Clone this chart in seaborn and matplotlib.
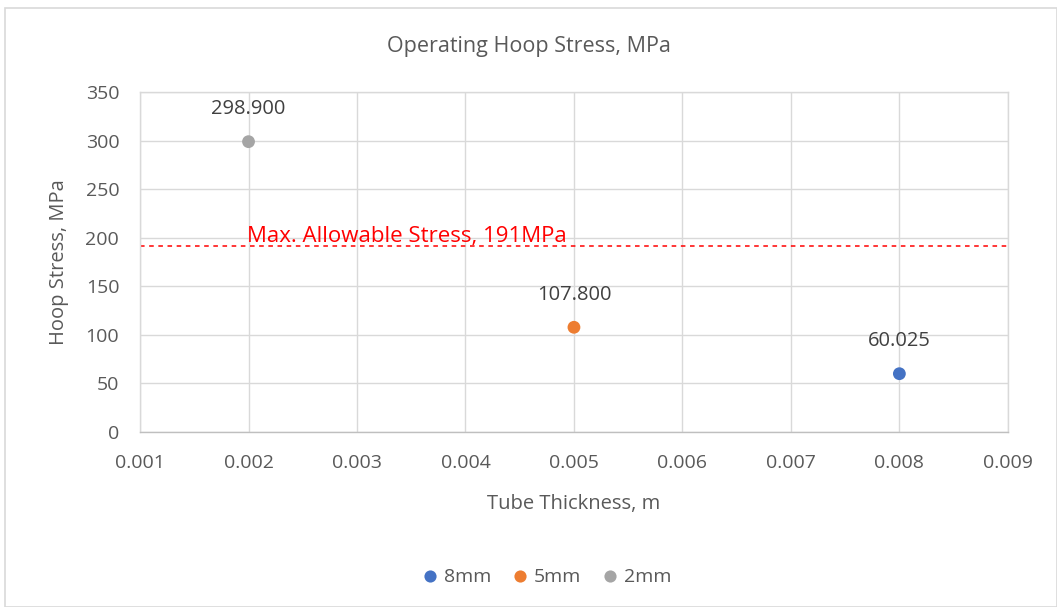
import seaborn as sns
import matplotlib.pyplot as plt
import matplotlib.patches as mpatches
import pandas as pd

# data
series = ["8mm", "5mm", "2mm"]
thickness = [0.008, 0.005, 0.002]
hoop_stress = [60.025, 107.8, 298.9]
colors = ["#4472C4", "#ED7D31", "#A5A5A5"]
allowable = 191
x_ticks = [0.001, 0.002, 0.003, 0.004, 0.005, 0.006, 0.007, 0.008, 0.009]
y_ticks = [0, 50, 100, 150, 200, 250, 300, 350]

df = pd.DataFrame({"series": series, "thickness": thickness, "stress": hoop_stress})

sns.set_theme(style="whitegrid")
plt.rcParams["font.family"] = ["Open Sans", "DejaVu Sans"]
txt = "#595959"
grid = "#D9D9D9"

fig = plt.figure(figsize=(10.57, 6.07), dpi=100)
fig.patches.append(mpatches.Rectangle((0.005, 0.0), 0.995, 0.986, transform=fig.transFigure,
                                      fill=False, edgecolor="#D9D9D9", linewidth=1.2))
ax = fig.add_axes([0.1325, 0.2883, 0.821, 0.5601])

sns.scatterplot(data=df, x="thickness", y="stress", hue="series", hue_order=series,
                palette=colors, s=85, edgecolor="none", ax=ax, zorder=3)

for x, y in zip(thickness, hoop_stress):
    ax.annotate(f"{y:.3f}", (x, y), xytext=(0, 16), textcoords="offset points",
                ha="center", va="bottom", fontsize=14.5, color="#404040")

ax.axhline(allowable, color="#FF0000", linestyle=(0, (3, 3)), linewidth=1.1, zorder=2)
ax.text(0.00199, allowable - 1, "Max. Allowable Stress, 191MPa", color="#FF0000",
        fontsize=16, ha="left", va="bottom")

ax.set_xlim(0.001, 0.009)
ax.set_ylim(0, 350)
ax.set_xticks(x_ticks)
ax.set_yticks(y_ticks)
ax.set_xticklabels([f"{t:.3f}" for t in x_ticks])
ax.tick_params(axis="x", colors=txt, labelsize=14, length=0, pad=16)
ax.tick_params(axis="y", colors=txt, labelsize=14, length=0, pad=15)
ax.grid(True, color=grid, linewidth=1)
for sp in ax.spines.values():
    sp.set_visible(True)
    sp.set_color(grid)
    sp.set_linewidth(1)
ax.spines["bottom"].set_color("#BFBFBF")

ax.set_xlabel("Tube Thickness, m", fontsize=14.5, color=txt, labelpad=16)
ax.set_ylabel("Hoop Stress, MPa", fontsize=14.5, color=txt, labelpad=12)
fig.suptitle("Operating Hoop Stress, MPa", fontsize=15.5, color=txt, y=0.94)

ax.legend(loc="upper center", bbox_to_anchor=(0.462, -0.35), ncol=3, frameon=False,
          fontsize=14, labelcolor=txt, handletextpad=-0.3, columnspacing=0.5,
          markerscale=0.95)

fig.savefig("out.png", dpi=100, facecolor="white")
